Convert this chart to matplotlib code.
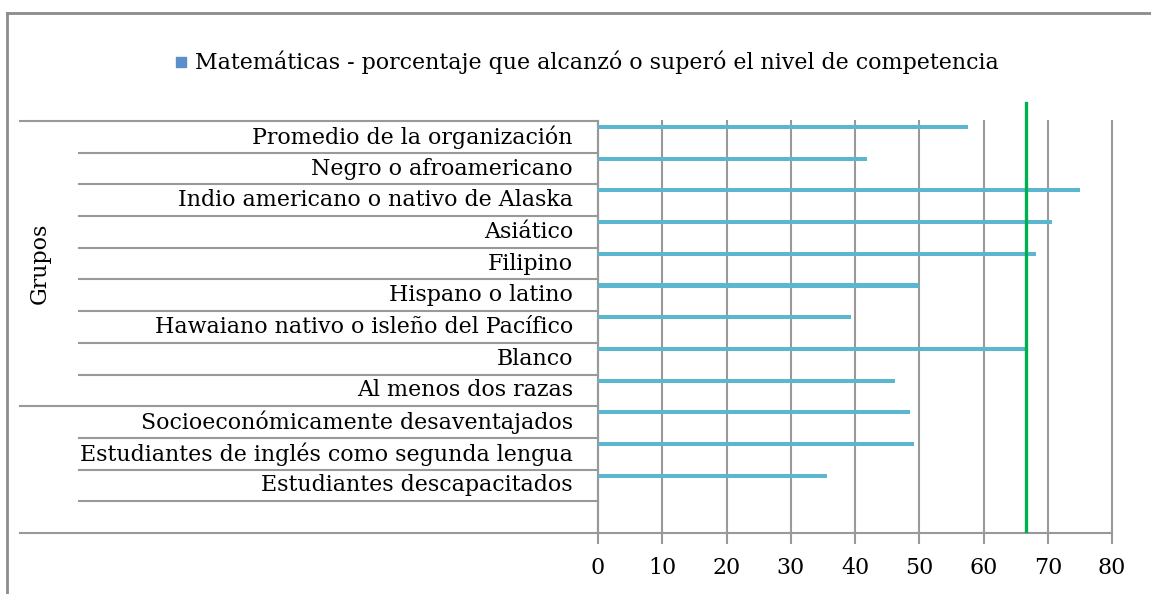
import matplotlib
matplotlib.use("Agg")
from matplotlib import pyplot as plt
from matplotlib.lines import Line2D
from matplotlib.patches import Rectangle

# data
categories = [
    "Promedio de la organización",
    "Negro o afroamericano",
    "Indio americano o nativo de Alaska",
    "Asiático",
    "Filipino",
    "Hispano o latino",
    "Hawaiano nativo o isleño del Pacífico",
    "Blanco",
    "Al menos dos razas",
    "Socioeconómicamente desaventajados",
    "Estudiantes de inglés como segunda lengua",
    "Estudiantes descapacitados",
]
values = [57.6, 41.8, 75.0, 70.6, 68.2, 50.0, 39.3, 67.0, 46.3, 48.5, 49.2, 35.7]
target = 66.6
group_label = "Grupos"
group_size = 9          # rows covered by "Grupos"
n_slots = 13            # 12 categories + one empty slot at the bottom
legend_label = "Matemáticas - porcentaje que alcanzó o superó el nivel de competencia"
xticks = [0, 10, 20, 30, 40, 50, 60, 70, 80]

W, H = 1151, 594
FONT = "DejaVu Serif"
FS = 15.9
GREY = "#999999"
BAR = "#5bb7cf"

fig = plt.figure(figsize=(W / 100, H / 100), dpi=100)

# outer chart frame (top and left edges visible)
fig.add_artist(Line2D([7 / W, 1.01], [1 - 13 / H, 1 - 13 / H], color="#8c8c8c", lw=2, transform=fig.transFigure))
fig.add_artist(Line2D([7 / W, 7 / W], [-0.01, 1 - 13 / H], color="#8c8c8c", lw=2, transform=fig.transFigure))

x0, x1, ytop, ybot = 598, 1112, 121, 533
ax = fig.add_axes([x0 / W, 1 - ybot / H, (x1 - x0) / W, (ybot - ytop) / H])

pos = [i + 0.19 for i in range(len(values))]
ax.barh(pos, values, height=0.13, color=BAR, zorder=3)

ax.set_xlim(0, 80)
ax.set_ylim(n_slots, 0)
ax.set_xticks(xticks)
ax.set_xticklabels([str(t) for t in xticks], fontfamily=FONT, fontsize=FS)
ax.tick_params(axis="x", length=8, width=1.5, color=GREY, pad=9)
ax.set_yticks([])
ax.grid(axis="x", color=GREY, lw=1.5, zorder=1)
for gl in ax.get_xgridlines():
    gl.set_clip_on(False)
ax.set_axisbelow(True)
for s in ["top", "right"]:
    ax.spines[s].set_visible(False)
for s in ["left", "bottom"]:
    ax.spines[s].set_color(GREY)
    ax.spines[s].set_linewidth(1.5)

# target line
ax.axvline(target, ymin=(ybot - 531) / (ybot - ytop), ymax=(ybot - 103) / (ybot - ytop),
           color="#00b050", lw=2.4, clip_on=False, zorder=4)

# category labels and separators
axw = x1 - x0
tr = ax.get_yaxis_transform()
for i, c in enumerate(categories):
    ax.text(-25 / axw, i + 0.5, c, transform=tr, ha="right", va="center",
            fontfamily=FONT, fontsize=FS)
for b in range(n_slots + 1):
    left = 20 if b in (0, group_size, n_slots) else 79
    ax.add_line(Line2D([(left - x0) / axw, 0], [b, b], transform=tr, color=GREY,
                       lw=1.5, clip_on=False))

ax.text((40 - x0) / axw, group_size / 2, group_label, transform=tr, rotation=90,
        ha="center", va="center", fontfamily=FONT, fontsize=FS)

# legend
fig.add_artist(Rectangle((176 / W, 1 - 67 / H), 10 / W, 10 / H, color="#5b8fc9",
                         transform=fig.transFigure))
fig.text(195 / W, 1 - 62 / H, legend_label, ha="left", va="center",
         fontfamily=FONT, fontsize=FS)

fig.savefig("out.png", dpi=100)
